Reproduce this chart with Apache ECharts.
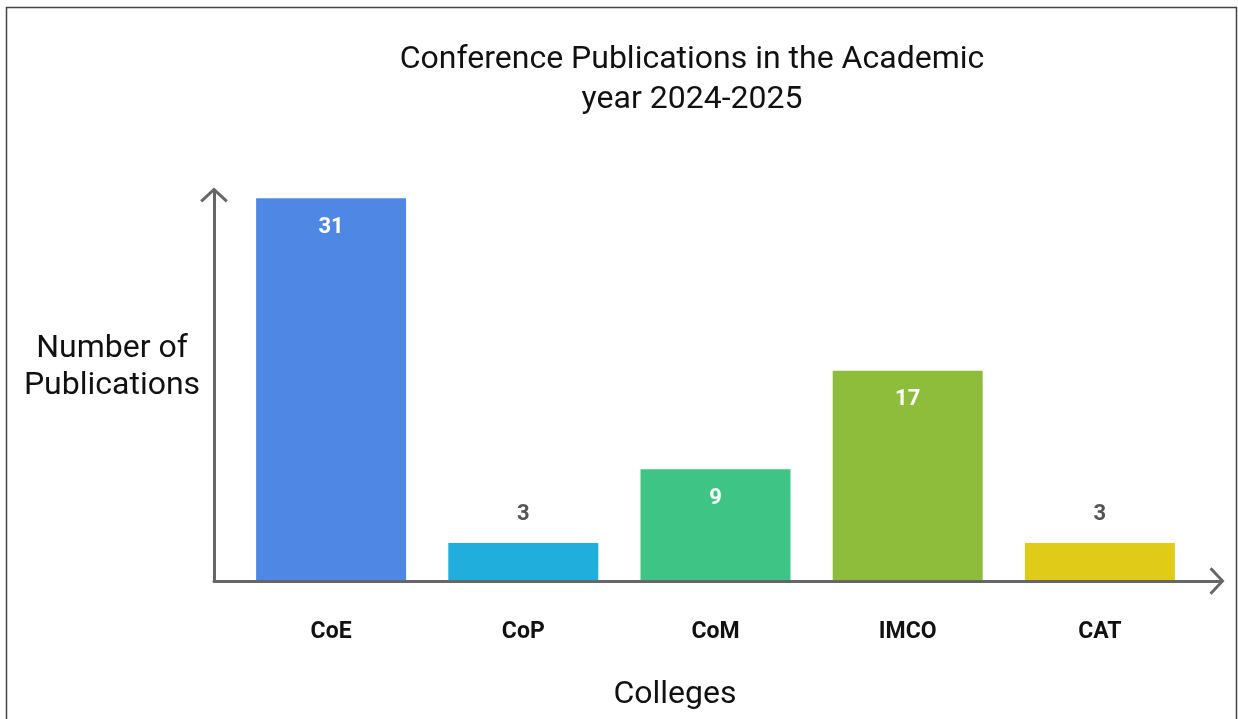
<!DOCTYPE html>
<html>
<head>
<meta charset="utf-8">
<title>Conference Publications</title>
<script src="https://cdn.jsdelivr.net/npm/echarts@6/dist/echarts.min.js"></script>
<style>
  html, body { margin: 0; padding: 0; background: #fff; }
  #chart { width: 1238px; height: 719px; }
</style>
</head>
<body>
<div id="chart"></div>
<script>
// Conference publications per college, academic year 2024-2025
const colleges = ['CoE', 'CoP', 'CoM', 'IMCO', 'CAT'];
const publications = [31, 3, 9, 17, 3];
const barColors = ['#4F87E4', '#20AEDC', '#3EC585', '#8EBD3B', '#E0CB19'];
// bars tall enough hold their value inside, short ones show it above
const labelInside = [true, false, true, true, false];

const FONT = 'Roboto, "Noto Sans", sans-serif';
// open chevron used as the axis arrow head (points up, rotated by the axis)
const chevron = 'path://M14 0 L28 13 L26 15.2 L14 4 L2 15.2 L0 13 Z';

const barData = publications.map((v, i) => ({
  value: v,
  itemStyle: { color: barColors[i] },
  label: labelInside[i]
    ? { position: 'insideTop', distance: 18, color: '#ffffff' }
    : { position: 'top', distance: 18, color: '#555555' }
}));

const chart = echarts.init(document.getElementById('chart'), null, { renderer: 'canvas' });
chart.setOption({
  animation: false,
  backgroundColor: '#ffffff',
  textStyle: { fontFamily: FONT },
  title: [
    {
      text: 'Conference Publications in the Academic\nyear 2024-2025',
      left: 692, top: 40, padding: 0, textAlign: 'center',
      textStyle: { fontFamily: FONT, fontSize: 32, fontWeight: 'normal', color: '#111111', lineHeight: 40 }
    },
    {
      text: 'Number of\nPublications',
      left: 112, top: 330, padding: 0, textAlign: 'center',
      textStyle: { fontFamily: FONT, fontSize: 32, fontWeight: 'normal', color: '#111111', lineHeight: 37 }
    },
    {
      text: 'Colleges',
      left: 675, top: 677, padding: 0, textAlign: 'center',
      textStyle: { fontFamily: FONT, fontSize: 32, fontWeight: 'normal', color: '#111111', lineHeight: 36 }
    }
  ],
  graphic: [{
    type: 'rect',
    shape: { x: 6.5, y: 7.5, width: 1230, height: 740 },
    style: { fill: 'none', stroke: '#444444', lineWidth: 1.5 },
    silent: true
  }],
  grid: [
    // plotting area for the bars
    { left: 235, right: 42, top: 186, bottom: 139, containLabel: false },
    // frame carrying the two arrowed axis lines
    { left: 214, right: 18, top: 192, bottom: 138, containLabel: false }
  ],
  xAxis: [
    {
      type: 'category', gridIndex: 0, data: colleges,
      axisLine: { show: false }, axisTick: { show: false },
      axisLabel: { margin: 41, fontFamily: FONT, fontSize: 23, fontWeight: 'bold', color: '#111111' }
    },
    {
      type: 'value', gridIndex: 1, min: 0, max: 1, z: 5,
      axisLine: { show: true, symbol: ['none', chevron], symbolSize: [28, 15], symbolOffset: [0, -3],
        lineStyle: { color: '#666666', width: 3 } },
      axisTick: { show: false }, axisLabel: { show: false }, splitLine: { show: false }
    }
  ],
  yAxis: [
    {
      type: 'value', gridIndex: 0, min: 0, max: 32,
      axisLine: { show: false }, axisTick: { show: false },
      axisLabel: { show: false }, splitLine: { show: false }
    },
    {
      type: 'value', gridIndex: 1, min: 0, max: 1, z: 5,
      axisLine: { show: true, symbol: ['none', chevron], symbolSize: [28, 15], symbolOffset: [0, -3],
        lineStyle: { color: '#666666', width: 3 } },
      axisTick: { show: false }, axisLabel: { show: false }, splitLine: { show: false }
    }
  ],
  series: [{
    type: 'bar',
    xAxisIndex: 0, yAxisIndex: 0,
    barWidth: 150,
    data: barData,
    label: { show: true, fontFamily: FONT, fontSize: 22, fontWeight: 'bold' }
  }]
});
</script>
</body>
</html>
